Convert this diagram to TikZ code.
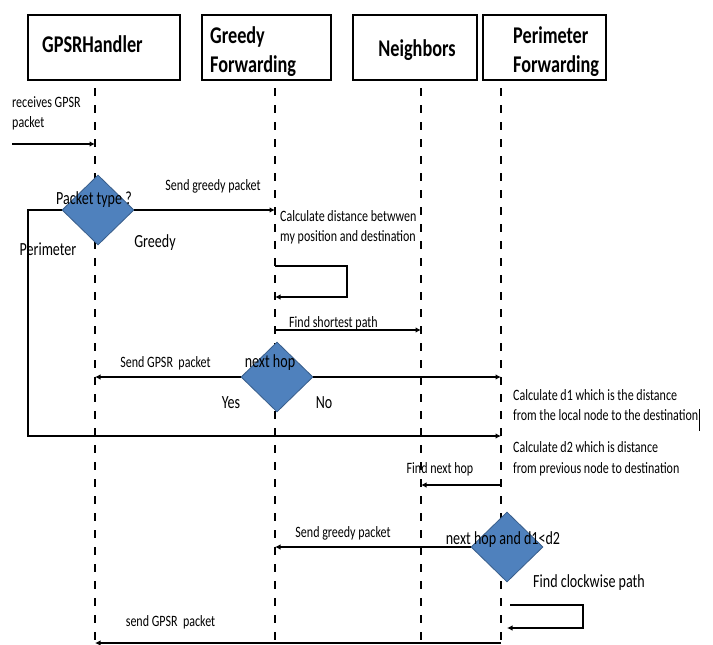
\documentclass[tikz,border=0pt]{standalone}
\usepackage{fontspec}
\setmainfont{Carlito}[FakeStretch=0.76]
\usetikzlibrary{shapes.geometric,arrows.meta}
\definecolor{shapeblue}{RGB}{79,129,189}
\definecolor{shapeedge}{RGB}{56,93,138}
\tikzset{
  obj/.style={draw, line width=1.8pt, minimum width=#1, minimum height=65pt, inner sep=0pt},
  objtxt/.style={font=\fontsize{24}{29}\selectfont\bfseries, align=left, inner sep=0pt},
  life/.style={line width=1.6pt, dash pattern=on 8pt off 9pt},
  msg/.style={line width=1.6pt, -{Latex[length=5.5pt,width=5.5pt]}},
  choice/.style={diamond, draw=shapeedge, fill=shapeblue, line width=0.8pt,
    minimum width=72pt, minimum height=70pt, inner sep=0pt},
  small/.style={font=\fontsize{15.8}{20.5}\selectfont, align=left, inner sep=0pt},
  mid/.style={font=\fontsize{18.5}{20}\selectfont, inner sep=0pt},
}
\begin{document}
\begin{tikzpicture}[x=1pt,y=-1pt]
  \useasboundingbox (0,0) rectangle (713,645);
  % objects
  \node[obj=152pt] (gpsr) at (104,47.5) {};
  \node[obj=129pt] (greedy) at (266.5,47.5) {};
  \node[obj=124pt] (neigh) at (415,47.5) {};
  \node[obj=123pt] (perim) at (544.5,47.5) {};
  \node[objtxt, anchor=west] (gpsrtxt) at (42,44) {GPSRHandler};
  \node[objtxt, anchor=west] (greedytxt) at (210,51.5) {Greedy\\Forwarding};
  \node[objtxt] (neightxt) at (417,50) {Neighbors};
  \node[objtxt, anchor=west] (perimtxt) at (513,51.5) {Perimeter\\Forwarding};

  % lifelines
  \coordinate (gl) at (95,88);
  \coordinate (fl) at (275,88);
  \coordinate (nl) at (421,88);
  \coordinate (pl) at (501,88);
  \foreach \c in {gl,fl,nl,pl}
    \draw[life] (\c) -- ++(0,552);

  % incoming packet
  \coordinate (rx) at (12,144);
  \draw[msg] (rx) -- (rx -| gl);
  \node[small, anchor=west] (rxtxt) at (12,113.5) {receives GPSR\\packet};

  % packet type
  \node[choice] (ptype) at (98,210) {};
  \node[mid] (ptypetxt) at (94,200) {Packet type ?};
  \draw[msg] (ptype.east) -- (ptype.east -| fl);
  \node[small] (sendg) at (213,186) {Send greedy packet};
  \node[mid] (greedylbl) at (155,243) {Greedy};
  \node[mid] (perimlbl) at (48,249) {Perimeter};
  \coordinate (pback) at (28,436);
  \draw[msg] (ptype.west) -| (pback) -- (pback -| pl);

  % greedy forwarding
  \node[small, anchor=west] (calc) at (280,227.5) {Calculate distance betwwen\\my position and destination};
  \coordinate (gloop) at (275,266);
  \draw[msg] (gloop) -- ++(72,0) -- ++(0,31) -- ++(-72,0);
  \draw[msg] (fl |- 0,330) -- (nl |- 0,330);
  \node[small, anchor=west] (shortest) at (289,323) {Find shortest path};

  % next hop
  \node[choice] (hop) at (277,377) {};
  \node[mid] (hoptxt) at (270,363) {next hop};
  \draw[msg] (hop.west) -- (hop.west -| gl);
  \draw[msg] (hop.east) -- (hop.east -| pl);
  \node[small] (sendgpsr) at (165.5,363) {Send GPSR~ packet};
  \node[mid] (yes) at (231,403) {Yes};
  \node[mid] (no) at (324,403) {No};

  % perimeter forwarding
  \node[small, anchor=west] (cd1) at (513,405) {Calculate d1 which is the distance\\from the local node to the destination};
  \draw[line width=0.8pt] (699,409) -- (699,431);
  \node[small, anchor=west] (cd2) at (513,459) {Calculate d2 which is distance\\from previous node to destination};
  \draw[msg] (pl |- 0,485) -- (nl |- 0,485);
  \node[small] (nexthop) at (440,469) {Find next hop};

  \node[choice] (hop2) at (507,547) {};
  \node[mid] (hop2txt) at (503,540) {next hop and d1<d2};
  \draw[msg] (hop2.west) -- (hop2.west -| fl);
  \node[small] (sendg2) at (343,533) {Send greedy packet};
  \node[mid] (clock) at (589,583) {Find clockwise path};
  \coordinate (ploop) at (510,605);
  \draw[msg] (ploop) -- ++(73,0) -- ++(0,23) -- ++(-76,0);
  \draw[msg] (pl |- 0,643) -- (gl |- 0,643);
  \node[small] (sendgpsr2) at (170.5,622) {send GPSR~ packet};
\end{tikzpicture}
\end{document}
